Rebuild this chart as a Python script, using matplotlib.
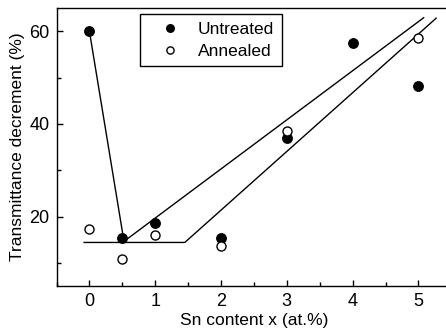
import numpy as np
from matplotlib import pyplot as plt
from matplotlib.ticker import MultipleLocator

plt.rcParams["font.family"] = ["Liberation Sans", "DejaVu Sans"]
plt.rcParams["font.size"] = 12.5

# Sn content (at.%) and transmittance decrement (%)
x_untreated = [0, 0.5, 1, 2, 3, 4, 5]
y_untreated = [60.0, 15.3, 18.7, 15.3, 37.0, 57.5, 48.2]

x_annealed = [0, 0.5, 1, 2, 3, 5]
y_annealed = [17.4, 10.9, 16.1, 13.6, 38.5, 58.6]

# hand-drawn guide lines
guide_steep_x = [0, 0.52]
guide_steep_y = [60.0, 15.1]
guide_upper_x = [0.56, 5.08]
guide_upper_y = [15.0, 62.9]
guide_lower_x = [-0.08, 1.45, 5.27]
guide_lower_y = [14.4, 14.4, 62.8]


fig = plt.figure(figsize=(4.46, 3.34), dpi=100)
ax = fig.add_axes([56.5 / 446, 48 / 334, 394.8 / 446, 278 / 334])

lw = 1.0
ax.plot(guide_steep_x, guide_steep_y, color="black", lw=lw)
ax.plot(guide_upper_x, guide_upper_y, color="black", lw=lw)
ax.plot(guide_lower_x, guide_lower_y, color="black", lw=lw)

ax.plot(x_untreated, y_untreated, "o", ms=6.8, mfc="black", mec="black",
        ls="none", label="Untreated", zorder=3)
ax.plot(x_annealed, y_annealed, "o", ms=6.5, mfc="white", mec="black",
        mew=1.0, ls="none", label="Annealed", zorder=3)

ax.set_xlim(-0.5, 5.5)
ax.set_ylim(5, 65)
ax.set_xticks([0, 1, 2, 3, 4, 5])
ax.set_yticks([20, 40, 60])
ax.xaxis.set_minor_locator(MultipleLocator(0.5))
ax.yaxis.set_minor_locator(MultipleLocator(10))
ax.tick_params(which="both", direction="in", top=False, right=False, width=1.0)
ax.tick_params(which="major", length=4.5, pad=5, labelsize=13)
ax.tick_params(which="minor", length=3)
for sp in ax.spines.values():
    sp.set_linewidth(1.0)

ax.set_xlabel("Sn content x (at.%)", labelpad=2)
ax.set_ylabel("Transmittance decrement (%)", labelpad=3)

leg = ax.legend(loc="upper left", bbox_to_anchor=(0.211, 0.977), borderaxespad=0,
                numpoints=1, frameon=True, fancybox=False, edgecolor="black",
                framealpha=1, handlelength=2.6, handletextpad=0.3,
                borderpad=0.45, labelspacing=0.35, markerscale=0.8)
leg.get_frame().set_linewidth(1.0)

fig.savefig("out.png", dpi=100)
